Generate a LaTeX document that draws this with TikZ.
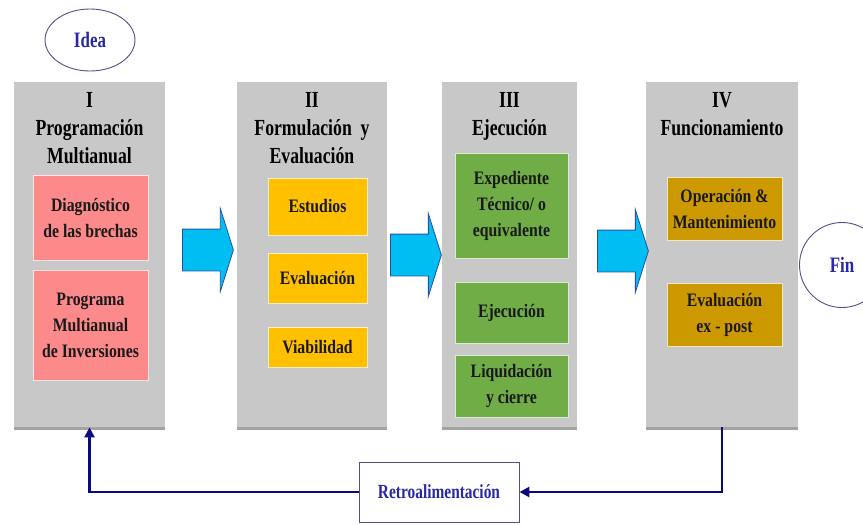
\documentclass[tikz,border=0pt]{standalone}
\usepackage{fontspec}
\setmainfont{Liberation Serif}
\newfontfamily\cabecera[FakeStretch=0.77]{Liberation Serif}
\newfontfamily\cajafont[FakeStretch=0.83]{Liberation Serif}
\usetikzlibrary{positioning,shapes.geometric,shapes.arrows,shadows,arrows.meta}
\definecolor{gris}{RGB}{200,200,200}
\definecolor{rosa}{RGB}{252,138,138}
\definecolor{naranja}{RGB}{255,192,0}
\definecolor{verde}{RGB}{112,173,71}
\definecolor{ocre}{RGB}{204,153,0}
\definecolor{cian}{RGB}{0,190,242}
\definecolor{azulborde}{RGB}{40,80,170}
\definecolor{marino}{RGB}{10,10,128}
\definecolor{azultexto}{RGB}{40,40,165}
\definecolor{borde}{RGB}{80,80,140}

\tikzset{
  fase/.style = {fill = gris, minimum width = #1, minimum height = 345pt, anchor = north,
    drop shadow = {shadow xshift = 0pt, shadow yshift = -2.5pt, opacity = .6, fill = black!60}},
  titulo/.style = {anchor = north, align = center, font = \cabecera\bfseries\fontsize{23}{28}\selectfont},
  paso/.style = {draw = white!75!#1, line width = 1pt, fill = #1, align = center,
    text = black!90, font = \cajafont\bfseries\fontsize{19}{26}\selectfont},
  flecha/.style = {single arrow, fill = cian, draw = azulborde, line width = .8pt,
    inner xsep = 0pt, inner ysep = 20.5pt, minimum height = 51pt, single arrow head extend = 20.5pt,
    single arrow tip angle = 145, anchor = tail},
  limite/.style = {ellipse, draw = borde, line width = .9pt, text = azultexto,
    font = \cabecera\bfseries\fontsize{22}{24}\selectfont},
  retroflecha/.style = {draw = marino, line width = 2.6pt, -{Triangle[length = 10pt, width = 10pt]}}
}

\begin{document}
\begin{tikzpicture}[x = 1pt, y = -1pt]
\clip (0,0) rectangle (863,525);

% inicio y fin
\node[limite, minimum width = 90pt, minimum height = 62pt] (idea) at (90,40) {Idea};
\node[limite, minimum width = 85pt, minimum height = 85pt] (fin) at (842,265) {Fin};

% fases
\node[fase = 151pt] (f1) at (89.5,82) {};
\node[fase = 150pt] (f2) at (312,82) {};
\node[fase = 135pt] (f3) at (509.5,82) {};
\node[fase = 152pt] (f4) at (722,82) {};

\node[titulo] (t1) at (f1.north) [yshift = -7pt] {I\\Programación\\Multianual};
\node[titulo] (t2) at (f2.north) [yshift = -7pt] {II\\Formulación\ \ y\\Evaluación};
\node[titulo] (t3) at (f3.north) [yshift = -7pt] {III\\Ejecución};
\node[titulo] (t4) at (f4.north) [yshift = -7pt] {IV\\Funcionamiento};

% fase I
\node[paso = rosa, minimum width = 115pt, minimum height = 85pt] (p11) at (90.5,217.5) {Diagnóstico\\de las brechas};
\node[paso = rosa, minimum width = 115pt, minimum height = 110pt] (p12) at (90.5,325) {Programa\\Multianual\\de Inversiones};

% fase II
\node[paso = naranja, minimum width = 99pt, minimum height = 57pt] (p21) at (317.5,206.5) {Estudios};
\node[paso = naranja, minimum width = 99pt, minimum height = 50pt] (p22) at (317.5,278) {Evaluación};
\node[paso = naranja, minimum width = 99pt, minimum height = 40pt] (p23) at (317.5,347) {Viabilidad};

% fase III
\node[paso = verde, minimum width = 113pt, minimum height = 105pt] (p31) at (511.5,205.5) {Expediente\\Técnico/ o\\equivalente};
\node[paso = verde, minimum width = 113pt, minimum height = 61pt] (p32) at (511.5,312.5) {Ejecución};
\node[paso = verde, minimum width = 113pt, minimum height = 62pt] (p33) at (511.5,386) {Liquidación\\y cierre};

% fase IV
\node[paso = ocre, minimum width = 115pt, minimum height = 63pt] (p41) at (724.5,208.5) {Operación \&\\Mantenimiento};
\node[paso = ocre, minimum width = 115pt, minimum height = 63pt] (p42) at (724.5,314.5) {Evaluación\\ex - post};

% flechas entre fases
\node[flecha] (a1) at (182,250) {};
\node[flecha] (a2) at (390,255) {};
\node[flecha] (a3) at (597,251) {};

% retroalimentacion
\node[draw = borde, line width = .9pt, fill = white, minimum width = 160pt, minimum height = 60pt,
  text = azultexto, font = \cabecera\bfseries\fontsize{20}{22}\selectfont] (retro) at (439,492) {Retroalimentación};
\draw[retroflecha] (f4.south) |- (retro.east);
\draw[retroflecha] (retro.west) -| (f1.south);
\end{tikzpicture}
\end{document}
